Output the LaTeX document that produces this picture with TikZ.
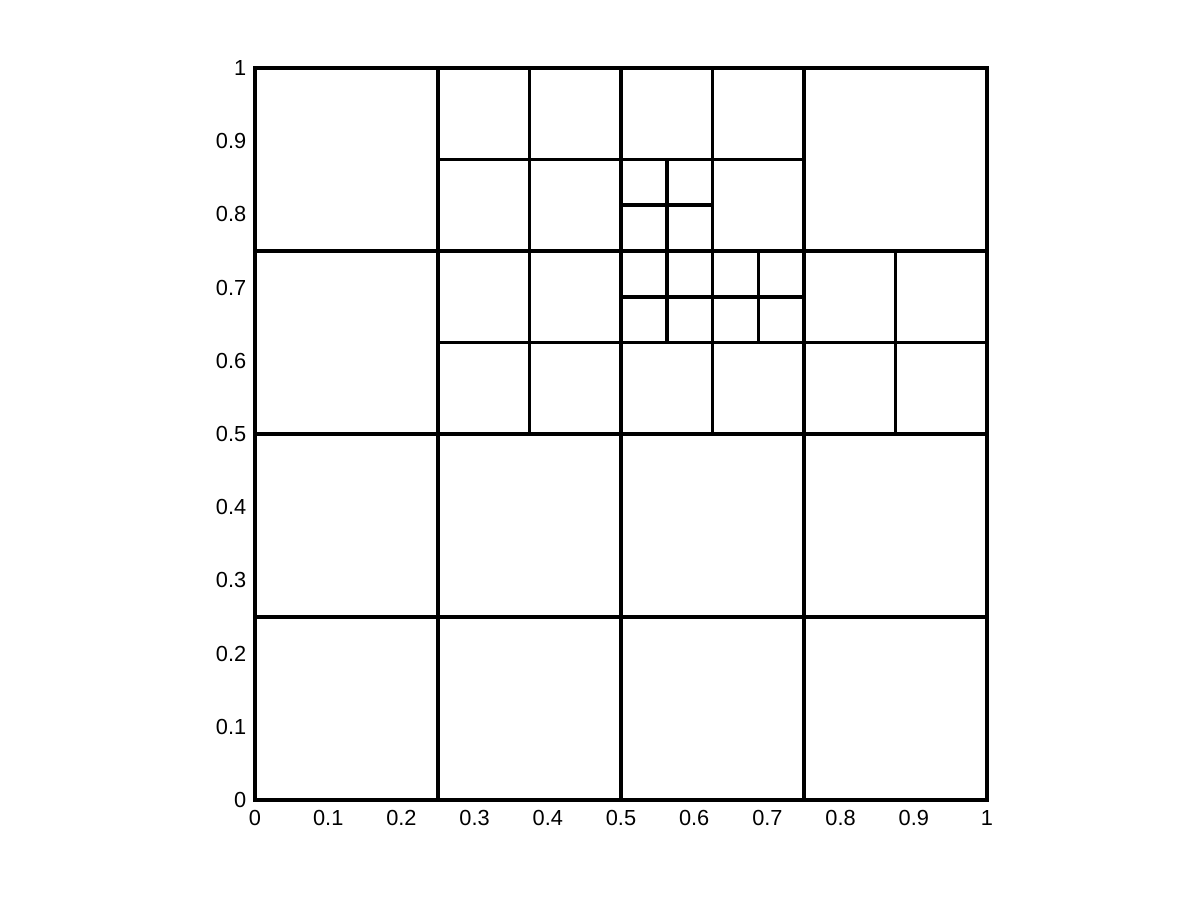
\documentclass[tikz,border=0pt]{standalone}
\usepackage{fontspec}
\setmainfont{Liberation Sans}
\begin{document}
\begin{tikzpicture}[x=7.32cm,y=7.32cm,mesh/.style={line width=1pt},lbl/.style={font=\fontsize{6.2}{7}\selectfont,inner sep=0pt}]
	\useasboundingbox(-0.3484,-0.1366) rectangle (1.2910,1.0929);
	% tick labels
	\foreach \p in {0,0.1,0.2,0.3,0.4,0.5,0.6,0.7,0.8,0.9,1}\node[lbl,anchor=north] (xl\p) at (\p,-0.0135){\p};
	\foreach \p in {0,0.1,0.2,0.3,0.4,0.5,0.6,0.7,0.8,0.9,1}\node[lbl,anchor=east] (yl\p) at (-0.011,\p){\p};
	% coarse cells
	\draw[mesh](0,0) rectangle (1,1);
	\foreach \p in {0.25,0.5,0.75}\draw[mesh](\p,0)--(\p,1) (0,\p)--(1,\p);
	% refined cells
	\foreach \p/\a/\b in {0.375/0.5/1,0.625/0.5/1,0.875/0.5/0.75,0.5625/0.625/0.875,0.6875/0.625/0.75}\draw[mesh](\p,\a)--(\p,\b);
	\foreach \p/\a/\b in {0.875/0.25/0.75,0.625/0.25/1,0.8125/0.5/0.625,0.6875/0.5/0.75}\draw[mesh](\a,\p)--(\b,\p);
\end{tikzpicture}
\end{document}
